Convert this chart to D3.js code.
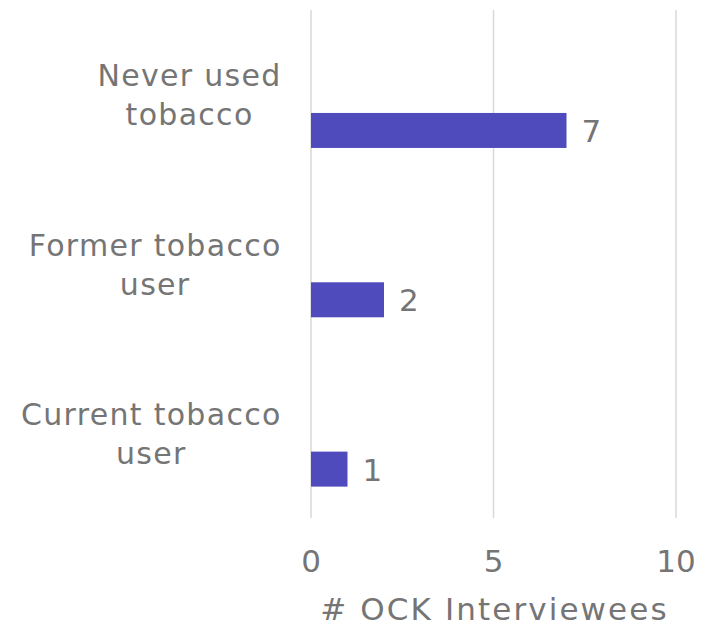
<!DOCTYPE html>
<html>
<head>
<meta charset="utf-8">
<script src="https://cdn.jsdelivr.net/npm/d3@7"></script>
<style>
  html, body { margin: 0; padding: 0; background: #ffffff; }
  svg { display: block; }
  text { font-family: "DejaVu Sans", sans-serif; fill: #757575; }
</style>
</head>
<body>
<svg id="chart" width="705" height="626"></svg>
<script>
// Tobacco use among OCK interviewees
const categories = [["Never used", "tobacco"], ["Former tobacco", "user"], ["Current tobacco", "user"]];
const values = [7, 2, 1];
const tickValues = [0, 5, 10];
const axisTitle = "# OCK Interviewees";

const svg = d3.select("#chart");
const plotLeft = 311, plotRight = 676, plotTop = 10, plotBottom = 518;

const x = d3.scaleLinear().domain([0, 10]).range([plotLeft, plotRight]);
const y = d3.scaleBand().domain(d3.range(categories.length)).range([plotTop, plotBottom]).paddingInner(0);
const bw = y.bandwidth();

// vertical gridlines at each tick
svg.append("g")
  .selectAll("line")
  .data(tickValues)
  .join("line")
  .attr("x1", d => x(d)).attr("x2", d => x(d))
  .attr("y1", plotTop).attr("y2", plotBottom)
  .attr("stroke", "#d9d9d9").attr("stroke-width", 1.5);

// bars sit in the lower part of each band, under their label
const barOffset = bw * 0.608, barH = 35;
svg.append("g")
  .selectAll("rect")
  .data(values)
  .join("rect")
  .attr("x", x(0))
  .attr("y", (d, i) => y(i) + barOffset)
  .attr("width", d => x(d) - x(0))
  .attr("height", barH)
  .attr("fill", "#4f4bbd");

// value labels to the right of each bar
svg.append("g")
  .selectAll("text")
  .data(values)
  .join("text")
  .attr("x", d => x(d) + 15)
  .attr("y", (d, i) => y(i) + barOffset + barH / 2 + 11.5)
  .attr("font-size", 31)
  .text(d => d);

// category labels: centred lines, block right-aligned to the plot
const labelRight = 281, fs = 30, ls = 1.3;
categories.forEach((lines, i) => {
  const g = svg.append("g");
  const texts = g.selectAll("text").data(lines).join("text")
    .attr("font-size", fs)
    .attr("letter-spacing", ls)
    .attr("text-anchor", "middle")
    .attr("y", (d, j) => y(i) + bw / 2 - 8.5 + j * 39)
    .text(d => d);
  let maxW = 0;
  texts.each(function () { maxW = Math.max(maxW, this.getComputedTextLength()); });
  texts.attr("x", labelRight - maxW / 2 + ls / 2);
});

// x tick labels
svg.append("g")
  .selectAll("text")
  .data(tickValues)
  .join("text")
  .attr("x", d => x(d))
  .attr("y", 572)
  .attr("text-anchor", "middle")
  .attr("font-size", 31)
  .text(d => d);

// axis title
svg.append("text")
  .attr("x", (plotLeft + plotRight) / 2 + 1)
  .attr("y", 620)
  .attr("text-anchor", "middle")
  .attr("font-size", 31)
  .attr("letter-spacing", 2.1)
  .text(axisTitle);
</script>
</body>
</html>
